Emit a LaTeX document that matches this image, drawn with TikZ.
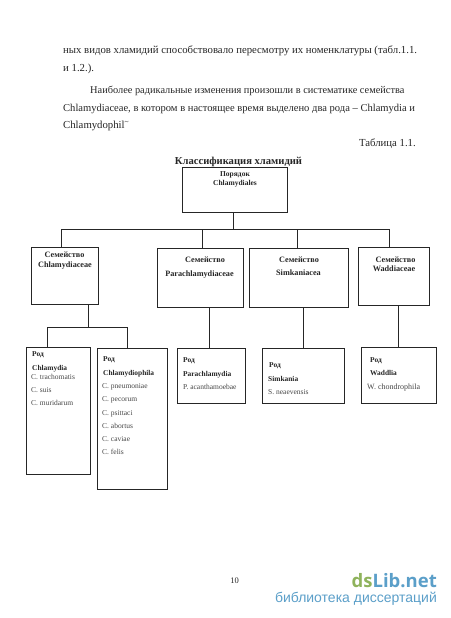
\documentclass[tikz,border=0pt]{standalone}
\usepackage{fontspec}
\setmainfont{Liberation Serif}
\newfontfamily\wmfont{Open Sans}
\newfontfamily\wmsub{Liberation Sans}
\definecolor{ink}{gray}{0.15}
\definecolor{wmgreen}{HTML}{8FB35C}
\definecolor{wmblue}{HTML}{5B9FC9}
\tikzset{
  box/.style={draw=ink,line width=0.8pt,minimum width=#1,inner sep=0pt},
  conn/.style={draw=ink,line width=0.8pt},
  body/.style={anchor=base west,inner sep=0pt,font=\fontsize{10.75}{12}\selectfont,text=ink},
  bodyr/.style={anchor=base east,inner sep=0pt,font=\fontsize{10.75}{12}\selectfont,text=ink},
  head/.style={anchor=base,inner sep=0pt,font=\bfseries\fontsize{8.2}{9}\selectfont,text=ink},
  headtop/.style={anchor=base,inner sep=0pt,font=\bfseries\fontsize{7.5}{9}\selectfont,text=ink},
  gen/.style={anchor=base west,inner sep=0pt,font=\bfseries\fontsize{7.4}{9}\selectfont,text=ink},
  sp/.style={anchor=base west,inner sep=0pt,font=\fontsize{7.5}{9}\selectfont,text=ink!85}
}
\begin{document}
\begin{tikzpicture}[x=1pt,y=-1pt]
\useasboundingbox[fill=white] (0,0) rectangle (450,618);
% body text
\node[body] (l1) at (63,53) {ных видов хламидий способствовало пересмотру их номенклатуры (табл.1.1.};
\node[body] (l2) at (63,71) {и 1.2.).};
\node[body,font=\fontsize{10.35}{12}\selectfont] (l3) at (90,93) {Наиболее радикальные изменения произошли в систематике семейства};
\node[body,font=\fontsize{10.55}{12}\selectfont] (l4) at (63,111) {Chlamydiaceae, в котором в настоящее время выделено два рода -- Chlamydia и};
\node[body] (l5) at (63,128) {Chlamydophil\textsuperscript{\textasciitilde}};
\node[bodyr] (l6) at (416,146) {Таблица 1.1.};
\node[anchor=base,inner sep=0pt,font=\bfseries\fontsize{10.6}{12}\selectfont,text=ink] (title) at (238.5,164) {Классификация хламидий};
% boxes
\node[box=105pt,minimum height=45pt] (top) at (234.5,189.5) {};
\node[box=67pt,minimum height=57pt] (f1) at (64.5,275.5) {};
\node[box=86pt,minimum height=59pt] (f2) at (200,277.5) {};
\node[box=99pt,minimum height=59pt] (f3) at (298.5,277.5) {};
\node[box=71pt,minimum height=58pt] (f4) at (393.5,276) {};
\node[box=64pt,minimum height=127pt] (g1) at (58,410.5) {};
\node[box=70pt,minimum height=141pt] (g2) at (132,418.5) {};
\node[box=68pt,minimum height=55pt] (g3) at (211,375.5) {};
\node[box=82pt,minimum height=55pt] (g4) at (303,375.5) {};
\node[box=75pt,minimum height=56pt] (g5) at (398.5,375) {};
% connectors
\coordinate (bus) at (233,229);
\coordinate (busL) at (61,229);
\coordinate (busP) at (202,229);
\coordinate (busS) at (297,229);
\coordinate (busR) at (389,229);
\coordinate (sub) at (88,327);
\coordinate (subL) at (47,327);
\coordinate (subR) at (127,327);
\draw[conn] (top.south -| bus) -- (bus);
\draw[conn] (busL) -- (busR);
\draw[conn] (busL) -- (busL |- f1.north);
\draw[conn] (busP) -- (busP |- f2.north);
\draw[conn] (busS) -- (busS |- f3.north);
\draw[conn] (busR) -- (busR |- f4.north);
\draw[conn] (sub |- f1.south) -- (sub);
\draw[conn] (subL) -- (subR);
\draw[conn] (subL) -- (subL |- g1.north);
\draw[conn] (subR) -- (subR |- g2.north);
\coordinate (dP) at (209,306);
\coordinate (dS) at (303,306);
\coordinate (dW) at (398,305);
\draw[conn] (dP |- f2.south) -- (dP |- g3.north);
\draw[conn] (dS |- f3.south) -- (dS |- g4.north);
\draw[conn] (dW |- f4.south) -- (dW |- g5.north);
% box labels
\node[headtop] (t1) at (235,176) {Порядок};
\node[headtop] (t2) at (235,185) {Chlamydiales};
\node[head] (a1) at (64.5,257) {Семейство};
\node[head] (a2) at (65,267) {Chlamydiaceae};
\node[head] (b1) at (205,262) {Семейство};
\node[head] (b2) at (199.5,276) {Parachlamydiaceae};
\node[head] (c1) at (299,262) {Семейство};
\node[head] (c2) at (298.5,275) {Simkaniacea};
\node[head] (d1) at (395.5,262) {Семейство};
\node[head] (d2) at (394,271) {Waddiaceae};
\node[gen] (g1a) at (32,356) {Род};
\node[gen] (g1b) at (32,370) {Chlamydia};
\node[sp] (g1c) at (31,379) {C. trachomatis};
\node[sp] (g1d) at (31,392) {C. suis};
\node[sp] (g1e) at (31,405) {C. muridarum};
\node[gen] (g2a) at (103,361) {Род};
\node[gen] (g2b) at (103,375) {Chlamydiophila};
\node[sp] (g2c) at (102,388) {C. pneumoniae};
\node[sp] (g2d) at (102,401) {C. pecorum};
\node[sp] (g2e) at (102,415) {C. psittaci};
\node[sp] (g2f) at (102,428) {C. abortus};
\node[sp] (g2g) at (102,441) {C. caviae};
\node[sp] (g2h) at (102,454) {C. felis};
\node[gen] (g3a) at (183,362) {Род};
\node[gen] (g3b) at (183,376) {Parachlamydia};
\node[sp] (g3c) at (183,389) {P. acanthamoebae};
\node[gen] (g4a) at (269,367) {Род};
\node[gen] (g4b) at (268,381) {Simkania};
\node[sp] (g4c) at (268,394) {S. neaevensis};
\node[gen] (g5a) at (370,362) {Род};
\node[gen] (g5b) at (370,375) {Waddlia};
\node[sp,font=\fontsize{8}{9}\selectfont] (g5c) at (367,389) {W. chondrophila};
% page number and watermark
\node[anchor=base,inner sep=0pt,font=\fontsize{8.5}{10}\selectfont,text=ink] (pg) at (234.5,583) {10};
\node[anchor=base east,inner sep=0pt,font=\wmfont\bfseries\fontsize{18.5}{20}\selectfont] (wm) at (437,587) {\textcolor{wmgreen}{ds}\textcolor{wmblue}{Lib.net}};
\node[anchor=base east,inner sep=0pt,font=\wmsub\fontsize{14}{16}\selectfont,text=wmblue] (wms) at (437,602) {библиотека диссертаций};
\end{tikzpicture}
\end{document}
